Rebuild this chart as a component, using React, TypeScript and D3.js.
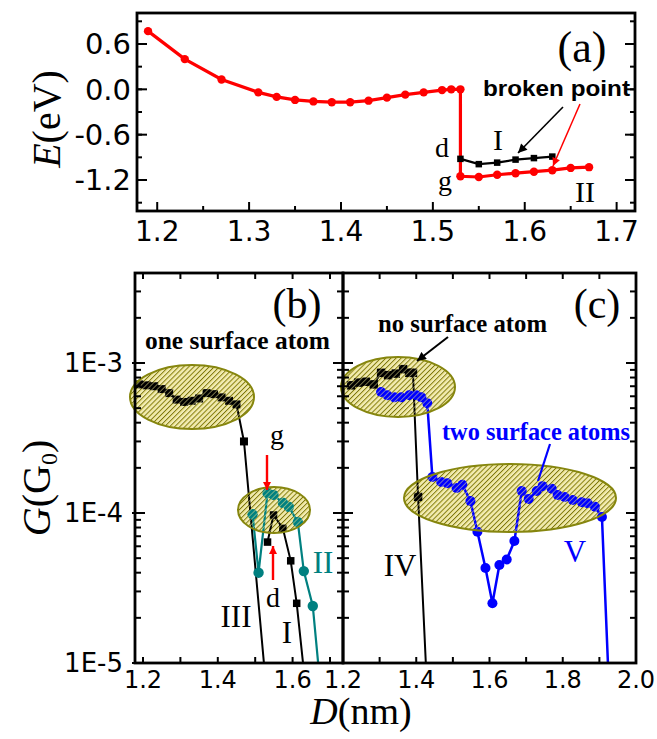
import React from "react";
import * as d3 from "d3";

// ---- panel (a): energy E (eV) vs D (nm)
const redD = [1.19, 1.23, 1.27, 1.31, 1.33, 1.35, 1.37, 1.39, 1.41, 1.43, 1.45, 1.47, 1.49, 1.51, 1.52, 1.53, 1.53, 1.55, 1.57, 1.59, 1.61, 1.63, 1.65, 1.67];
const redE = [0.77, 0.4, 0.13, -0.04, -0.1, -0.14, -0.16, -0.17, -0.17, -0.15, -0.11, -0.07, -0.04, -0.01, 0, 0, -1.15, -1.16, -1.13, -1.11, -1.09, -1.07, -1.04, -1.03];
const blkD = [1.53, 1.55, 1.57, 1.59, 1.61, 1.63];
const blkE = [-0.92, -0.99, -0.97, -0.93, -0.91, -0.89];

// ---- panel (b): conductance G (G0) vs D (nm)
const b3D = [1.19, 1.21, 1.23, 1.25, 1.27, 1.29, 1.31, 1.33, 1.35, 1.37, 1.39, 1.41, 1.43, 1.45, 1.47, 1.525];
const b3G = [7.2e-4, 7.1e-4, 7.0e-4, 6.7e-4, 6.3e-4, 5.7e-4, 5.5e-4, 5.6e-4, 5.8e-4, 6.3e-4, 6.2e-4, 5.9e-4, 5.6e-4, 5.3e-4, 3.0e-4, 9e-6];
const b2D = [1.493, 1.509, 1.533, 1.549, 1.574, 1.59, 1.614, 1.63, 1.654, 1.672];
const b2G = [9.8e-5, 4.0e-5, 1.36e-4, 1.32e-4, 1.17e-4, 1.1e-4, 8.7e-5, 4.1e-5, 2.4e-5, 8e-6];
const b1D = [1.533, 1.549, 1.574, 1.595, 1.611, 1.632];
const b1G = [6.4e-5, 9.7e-5, 7.9e-5, 4.8e-5, 2.5e-5, 8e-6];

// ---- panel (c)
const c4D = [1.222, 1.242, 1.262, 1.284, 1.304, 1.323, 1.344, 1.364, 1.381, 1.391, 1.405, 1.427];
const c4G = [7.1e-4, 7.4e-4, 7.5e-4, 7.2e-4, 8.6e-4, 8.3e-4, 8.5e-4, 9.1e-4, 8.6e-4, 8.6e-4, 1.28e-4, 9e-6];
const c5D = [1.304, 1.321, 1.34, 1.359, 1.381, 1.4, 1.414, 1.43, 1.444, 1.468, 1.485, 1.51, 1.526, 1.548, 1.567, 1.589, 1.608, 1.627, 1.647, 1.668, 1.688, 1.707, 1.729, 1.745, 1.77, 1.786, 1.805, 1.827, 1.852, 1.868, 1.888, 1.907, 1.925];
const c5G = [6.4e-4, 6.1e-4, 5.9e-4, 5.9e-4, 6.1e-4, 6.1e-4, 5.9e-4, 5.4e-4, 1.74e-4, 1.61e-4, 1.58e-4, 1.47e-4, 1.54e-4, 1.2e-4, 7.5e-5, 4.3e-5, 2.5e-5, 4.5e-5, 4.9e-5, 6.5e-5, 1.4e-4, 1.24e-4, 1.4e-4, 1.51e-4, 1.45e-4, 1.32e-4, 1.28e-4, 1.22e-4, 1.18e-4, 1.16e-4, 1.1e-4, 9.4e-5, 8e-6];

// ---- ticks
const aXTicks = [1.2, 1.3, 1.4, 1.5, 1.6, 1.7];
const aYTicks = [0.6, 0.0, -0.6, -1.2];
const bXTicks = [1.2, 1.4, 1.6];
const cXTicks = [1.2, 1.4, 1.6, 1.8, 2.0];
const gTicks = [1e-3, 1e-4, 1e-5];
const gTickLabels = ["1E-3", "1E-4", "1E-5"];

const TEAL = "#008080";
const SANS = "DejaVu Sans";
const SERIF = "Liberation Serif";

// scales
const xA = d3.scaleLinear().domain([1.178, 1.72]).range([137, 635]);
const yA = d3.scaleLinear().domain([-1.61, 1.01]).range([211, 13]);
const xB = d3.scaleLinear().domain([1.1786, 1.7348]).range([135, 343]);
const xC = d3.scaleLinear().domain([1.2, 2.0]).range([343, 636]);
const yG = d3.scaleLog().domain([1e-5, Math.pow(10, -2.4)]).range([663, 273]);

// hatched ellipses (annotation, pixel space)
const ellipses = [
  { cx: 192, cy: 397, rx: 62, ry: 32 },
  { cx: 274, cy: 510, rx: 36, ry: 23 },
  { cx: 398, cy: 387, rx: 57, ry: 30 },
  { cx: 510, cy: 498, rx: 106, ry: 34 },
];

const isDecade = (t: number) => Math.abs(Math.log10(t) - Math.round(Math.log10(t))) < 1e-6;

function Squares({ pts, x, y, size, fill = "#000" }: any) {
  return (
    <g>
      {pts.map((p: number[], i: number) => (
        <rect key={i} x={x(p[0]) - size / 2} y={y(p[1]) - size / 2} width={size} height={size} fill={fill} />
      ))}
    </g>
  );
}

function Dots({ pts, x, y, r, fill }: any) {
  return (
    <g>
      {pts.map((p: number[], i: number) => (
        <circle key={i} cx={x(p[0])} cy={y(p[1])} r={r} fill={fill} />
      ))}
    </g>
  );
}

export default function App() {
  const lineA = d3.line<number[]>().x(d => xA(d[0])).y(d => yA(d[1]));
  const lineB = d3.line<number[]>().x(d => xB(d[0])).y(d => yG(d[1]));
  const lineC = d3.line<number[]>().x(d => xC(d[0])).y(d => yG(d[1]));

  const red = d3.zip(redD, redE);
  const blk = d3.zip(blkD, blkE);
  const b3 = d3.zip(b3D, b3G);
  const b2 = d3.zip(b2D, b2G);
  const b1 = d3.zip(b1D, b1G);
  const c4 = d3.zip(c4D, c4G);
  const c5 = d3.zip(c5D, c5G);

  const [aL, aR] = xA.range();
  const [aB, aT] = yA.range();
  const [bL, bR] = xB.range();
  const cR = xC.range()[1];
  const [gB, gT] = yG.range();

  const aXAll = d3.range(1.2, 1.7001, 0.05);
  const aYAll = d3.range(-1.5, 0.901, 0.3);
  const bXAll = d3.range(1.2, 1.7001, 0.1);
  const cXAll = d3.range(1.3, 1.9501, 0.1);
  const gAll = yG.ticks();

  const tk = { stroke: "#000", strokeWidth: 2 };

  return (
    <svg width={657} height={739} style={{ position: "absolute", left: 0, top: 0, background: "#fff" }}>
      <defs>
        <clipPath id="clipA"><rect x={aL} y={aT} width={aR - aL} height={aB - aT} /></clipPath>
        <clipPath id="clipB"><rect x={bL} y={gT} width={bR - bL} height={gB - gT} /></clipPath>
        <clipPath id="clipC"><rect x={bR} y={gT} width={cR - bR} height={gB - gT} /></clipPath>
        <pattern id="hatchU" width={3.6} height={3.6} patternUnits="userSpaceOnUse" patternTransform="rotate(45)">
          <rect width={3.6} height={3.6} fill="#f1ebb6" />
          <rect x={0} width={1.0} height={3.6} fill="#76700f" />
          <rect x={1.0} width={0.8} height={3.6} fill="#e6dc74" />
        </pattern>
        <pattern id="hatchO" width={3.6} height={3.6} patternUnits="userSpaceOnUse" patternTransform="rotate(45)">
          <rect x={1.0} width={0.8} height={3.6} fill="#efe690" fillOpacity={0.6} />
        </pattern>
        <marker id="arrB" viewBox="0 0 10 10" refX={10} refY={5} markerWidth={11} markerHeight={9} markerUnits="userSpaceOnUse" orient="auto">
          <path d="M0,0L10,5L0,10z" fill="#000" />
        </marker>
        <marker id="arrR" viewBox="0 0 10 10" refX={10} refY={5} markerWidth={10} markerHeight={8} markerUnits="userSpaceOnUse" orient="auto">
          <path d="M0,0L10,5L0,10z" fill="#ff0000" />
        </marker>
      </defs>

      {/* hatched ellipse backgrounds, under the data */}
      {ellipses.map((e, i) => (
        <ellipse key={"eu" + i} {...e} fill="url(#hatchU)" />
      ))}

      {/* ================= panel (a) ================= */}
      <g clipPath="url(#clipA)">
        <path d={lineA(red) || ""} fill="none" stroke="#ff0000" strokeWidth={3.2} />
        <Dots pts={red} x={xA} y={yA} r={4.2} fill="#ff0000" />
        <path d={lineA(blk) || ""} fill="none" stroke="#000" strokeWidth={2.2} />
        <Squares pts={blk} x={xA} y={yA} size={6.5} />
      </g>
      {aXAll.map((v, i) => {
        const major = i % 2 === 0;
        return <line key={"ax" + i} x1={xA(v)} x2={xA(v)} y1={aB} y2={aB - (major ? 9 : 5)} {...tk} />;
      })}
      {aYAll.map((v, i) => (
        <g key={"ay" + i}>
          <line x1={aL} x2={aL + 5} y1={yA(v)} y2={yA(v)} {...tk} />
          <line x1={aR} x2={aR - 5} y1={yA(v)} y2={yA(v)} {...tk} />
        </g>
      ))}
      {aYTicks.map((v, i) => (
        <g key={"ayM" + i}>
          <line x1={aL} x2={aL + 10} y1={yA(v)} y2={yA(v)} {...tk} />
          <line x1={aR} x2={aR - 10} y1={yA(v)} y2={yA(v)} {...tk} />
          <text x={aL - 6} y={yA(v)} dy="0.36em" textAnchor="end" fontFamily={SANS} fontSize={29}>{v.toFixed(1)}</text>
        </g>
      ))}
      {aXTicks.map((v, i) => (
        <text key={"axl" + i} x={xA(v)} y={241} textAnchor="middle" fontFamily={SANS} fontSize={28}>{v.toFixed(1)}</text>
      ))}
      <rect x={aL} y={aT} width={aR - aL} height={aB - aT} fill="none" stroke="#000" strokeWidth={2.8} />
      <text transform="translate(60,119) rotate(-90)" textAnchor="middle" fontFamily={SERIF} fontSize={40}>
        <tspan fontStyle="italic">E</tspan>(eV)
      </text>
      <text x={582} y={62} textAnchor="middle" fontFamily={SERIF} fontSize={44}>(a)</text>
      <text x={483} y={96} fontFamily="Liberation Sans" fontWeight="bold" fontSize={22} textLength={147} lengthAdjust="spacingAndGlyphs">broken point</text>
      <line x1={563} y1={107} x2={518} y2={153} stroke="#000" strokeWidth={1.6} markerEnd="url(#arrB)" />
      <line x1={580} y1={104} x2={553} y2={166} stroke="#ff0000" strokeWidth={1.5} markerEnd="url(#arrR)" />
      <text x={498} y={150} textAnchor="middle" fontFamily={SERIF} fontSize={30}>I</text>
      <text x={442} y={157} textAnchor="middle" fontFamily={SERIF} fontSize={28}>d</text>
      <text x={445} y={190} textAnchor="middle" fontFamily={SERIF} fontSize={28}>g</text>
      <text x={585} y={202} textAnchor="middle" fontFamily={SERIF} fontSize={30}>II</text>

      {/* ================= panel (b) ================= */}
      <g clipPath="url(#clipB)">
        <path d={lineB(b3) || ""} fill="none" stroke="#000" strokeWidth={2} />
        <Squares pts={b3} x={xB} y={yG} size={8} />
        <path d={lineB(b2) || ""} fill="none" stroke={TEAL} strokeWidth={2.2} />
        <Dots pts={b2} x={xB} y={yG} r={5.2} fill={TEAL} />
        <path d={lineB(b1) || ""} fill="none" stroke="#000" strokeWidth={2} />
        <Squares pts={b1} x={xB} y={yG} size={7.5} />
      </g>

      {/* ================= panel (c) ================= */}
      <g clipPath="url(#clipC)">
        <path d={lineC(c4) || ""} fill="none" stroke="#000" strokeWidth={2} />
        <Squares pts={c4} x={xC} y={yG} size={8.5} />
        <path d={lineC(c5) || ""} fill="none" stroke="#0000ff" strokeWidth={2.5} />
        <Dots pts={c5} x={xC} y={yG} r={5} fill="#0000ff" />
      </g>

      {/* hatch lines and rims over the data */}
      {ellipses.map((e, i) => (
        <ellipse key={"eo" + i} {...e} fill="url(#hatchO)" stroke="#86860e" strokeWidth={2} />
      ))}

      {/* log y ticks */}
      {gAll.map((t, i) => {
        const len = isDecade(t) ? 10 : 6;
        const y = yG(t);
        return (
          <g key={"gy" + i}>
            <line x1={bL - (isDecade(t) ? 3 : 0)} x2={bL + len} y1={y} y2={y} {...tk} />
            <line x1={bR - len} x2={bR + len} y1={y} y2={y} {...tk} />
            <line x1={cR} x2={cR - len} y1={y} y2={y} {...tk} />
          </g>
        );
      })}
      {gTicks.map((t, i) => (
        <text key={"gl" + i} x={123} y={yG(t)} dy="0.36em" textAnchor="end" fontFamily={SANS} fontSize={26}>{gTickLabels[i]}</text>
      ))}
      {bXAll.map((v, i) => (
        <g key={"bx" + i}>
          <line x1={xB(v)} x2={xB(v)} y1={gB} y2={gB - 6} {...tk} />
          <line x1={xB(v)} x2={xB(v)} y1={gT} y2={gT + 6} {...tk} />
        </g>
      ))}
      {cXAll.map((v, i) => (
        <g key={"cx" + i}>
          <line x1={xC(v)} x2={xC(v)} y1={gB} y2={gB - 6} {...tk} />
          <line x1={xC(v)} x2={xC(v)} y1={gT} y2={gT + 6} {...tk} />
        </g>
      ))}
      {bXTicks.map((v, i) => (
        <text key={"bxl" + i} x={xB(v)} y={688} textAnchor="middle" fontFamily={SANS} fontSize={24}>{v.toFixed(1)}</text>
      ))}
      {cXTicks.map((v, i) => (
        <text key={"cxl" + i} x={xC(v)} y={688} textAnchor="middle" fontFamily={SANS} fontSize={24}>{v.toFixed(1)}</text>
      ))}
      <rect x={bL} y={gT} width={bR - bL} height={gB - gT} fill="none" stroke="#000" strokeWidth={2.8} />
      <rect x={bR} y={gT} width={cR - bR} height={gB - gT} fill="none" stroke="#000" strokeWidth={2.8} />

      <text transform="translate(50,488) rotate(-90)" textAnchor="middle" fontFamily={SERIF} fontSize={40}>
        <tspan fontStyle="italic">G</tspan>(G<tspan dy={7} fontSize={24}>0</tspan><tspan dy={-7}>)</tspan>
      </text>
      <text x={361} y={724} textAnchor="middle" fontFamily={SERIF} fontSize={38}>
        <tspan fontStyle="italic">D</tspan>(nm)
      </text>

      {/* annotations (b) */}
      <text x={297} y={318} textAnchor="middle" fontFamily={SERIF} fontSize={42}>(b)</text>
      <text x={145} y={349} fontFamily={SERIF} fontWeight="bold" fontSize={26} textLength={185} lengthAdjust="spacingAndGlyphs">one surface atom</text>
      <text x={277} y={444} textAnchor="middle" fontFamily={SERIF} fontSize={28}>g</text>
      <line x1={267} y1={455} x2={267} y2={490} stroke="#ff0000" strokeWidth={2.4} markerEnd="url(#arrR)" />
      <line x1={273} y1={580} x2={273} y2={546} stroke="#ff0000" strokeWidth={2.4} markerEnd="url(#arrR)" />
      <text x={273} y={607} textAnchor="middle" fontFamily={SERIF} fontSize={28}>d</text>
      <text x={236} y={627} textAnchor="middle" fontFamily={SERIF} fontSize={31}>III</text>
      <text x={287} y={643} textAnchor="middle" fontFamily={SERIF} fontSize={31}>I</text>
      <text x={323} y={573} textAnchor="middle" fontFamily={SERIF} fontSize={31} fill={TEAL}>II</text>

      {/* annotations (c) */}
      <text x={597} y={318} textAnchor="middle" fontFamily={SERIF} fontSize={42}>(c)</text>
      <text x={378} y={332} fontFamily={SERIF} fontWeight="bold" fontSize={25} textLength={169} lengthAdjust="spacingAndGlyphs">no surface atom</text>
      <line x1={448} y1={337} x2={417} y2={361} stroke="#000" strokeWidth={2} markerEnd="url(#arrB)" />
      <text x={442} y={440} fontFamily={SERIF} fontWeight="bold" fontSize={25} fill="#0000ff" textLength={188} lengthAdjust="spacingAndGlyphs">two surface atoms</text>
      <line x1={550} y1={444} x2={538} y2={481} stroke="#0000ff" strokeWidth={2.2} />
      <text x={400} y={576} textAnchor="middle" fontFamily={SERIF} fontSize={31}>IV</text>
      <text x={575} y={562} textAnchor="middle" fontFamily={SERIF} fontSize={31} fill="#0000ff">V</text>
    </svg>
  );
}
